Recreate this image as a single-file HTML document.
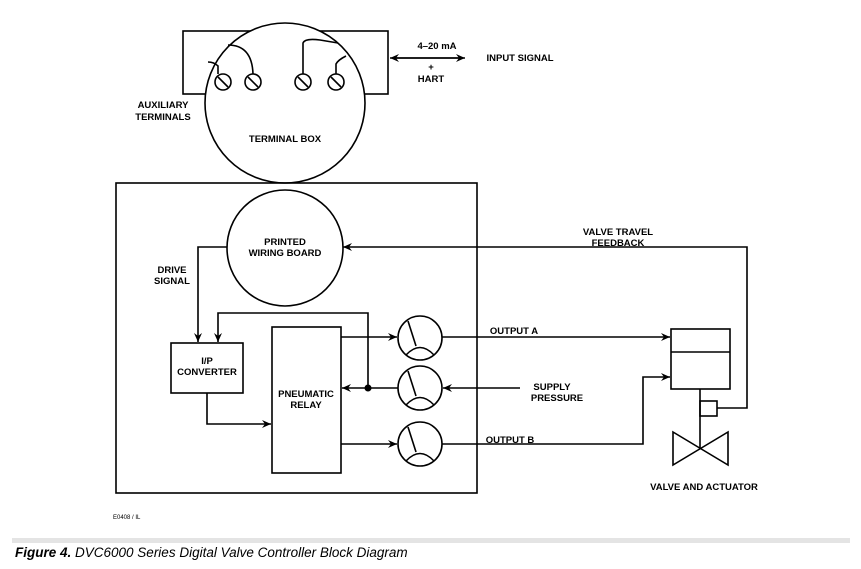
<!DOCTYPE html>
<html><head><style>body{margin:0;background:#fff}svg{display:block}</style></head><body>
<svg width="861" height="569" viewBox="0 0 861 569" xmlns="http://www.w3.org/2000/svg" font-family="Liberation Sans, Arial, sans-serif">
<defs><marker id="a" markerWidth="10" markerHeight="8" refX="9" refY="4" orient="auto" markerUnits="userSpaceOnUse"><path d="M0,0 L9,4 L0,8 L3,4 Z" fill="#000"/></marker></defs>
<g fill="none" stroke="#000" stroke-width="1.6">
<rect x="183" y="31" width="205" height="63" fill="#fff"/>
<circle cx="285" cy="103" r="80" fill="#fff"/>
<path d="M208,62 Q214,62 218,66 L218,74"/>
<path d="M228,45 Q252,45 253,74"/>
<path d="M303,74 L303,43 Q305,38 320,40 L338,43"/>
<path d="M346,56 Q338,60 336,64 L336,74"/>
<g id="s"><circle cx="223" cy="82" r="8"/><line x1="218" y1="77" x2="228" y2="87"/></g>
<use href="#s" x="30"/><use href="#s" x="80"/><use href="#s" x="113"/>
<line x1="395" y1="58" x2="465" y2="58" marker-end="url(#a)"/>
<line x1="460" y1="58" x2="390" y2="58" marker-end="url(#a)"/>
<rect x="116" y="183" width="361" height="310"/>
<circle cx="285" cy="248" r="58" fill="#fff"/>
<polyline points="227,247 198,247 198,342" marker-end="url(#a)"/>
<polyline points="368,388 368,313 218,313 218,342" marker-end="url(#a)"/>
<rect x="171" y="343" width="72" height="50"/>
<rect x="272" y="327" width="69" height="146"/>
<polyline points="207,393 207,424 271,424" marker-end="url(#a)"/>
<line x1="341" y1="337" x2="397" y2="337" marker-end="url(#a)"/>
<line x1="398" y1="388" x2="342" y2="388" marker-end="url(#a)"/>
<line x1="341" y1="444" x2="397" y2="444" marker-end="url(#a)"/>
<g id="g"><circle cx="420" cy="338" r="22"/><line x1="408" y1="321" x2="416" y2="346"/><path d="M406,355 Q420,340 434,355"/></g>
<use href="#g" y="50"/><use href="#g" y="106"/>
<line x1="442" y1="337" x2="670" y2="337" marker-end="url(#a)"/>
<line x1="520" y1="388" x2="443" y2="388" marker-end="url(#a)"/>
<polyline points="442,444 643,444 643,377 670,377" marker-end="url(#a)"/>
<rect x="671" y="329" width="59" height="60"/>
<line x1="671" y1="352" x2="730" y2="352"/>
<line x1="700" y1="389" x2="700" y2="449"/>
<rect x="700" y="401" width="17" height="15"/>
<polyline points="717,408 747,408 747,247 343,247" marker-end="url(#a)"/>
<path d="M673,432 L728,465 L728,432 L673,465 Z"/>
</g>
<circle cx="368" cy="388" r="3.5"/>
<g font-size="9.5" font-weight="bold" text-anchor="middle">
<text x="437" y="49">4–20 mA</text><text x="431" y="70">+</text><text x="431" y="82">HART</text>
<text x="520" y="61">INPUT SIGNAL</text>
<text x="163" y="108">AUXILIARY</text><text x="163" y="120">TERMINALS</text>
<text x="285" y="142">TERMINAL BOX</text>
<text x="285" y="245">PRINTED</text><text x="285" y="256">WIRING BOARD</text>
<text x="172" y="273">DRIVE</text><text x="172" y="284">SIGNAL</text>
<text x="207" y="364">I/P</text><text x="207" y="375">CONVERTER</text>
<text x="306" y="397">PNEUMATIC</text><text x="306" y="408">RELAY</text>
<text x="618" y="235">VALVE TRAVEL</text><text x="618" y="246">FEEDBACK</text>
<text x="514" y="334">OUTPUT A</text>
<text x="552" y="390">SUPPLY</text><text x="557" y="401">PRESSURE</text>
<text x="510" y="443">OUTPUT B</text>
<text x="704" y="490">VALVE AND ACTUATOR</text>
</g>
<text x="113" y="519" font-size="6">E0408 / IL</text>
<rect x="12" y="538" width="838" height="5" fill="#e4e4e4"/>
<text x="15" y="557" font-size="13.5" font-style="italic"><tspan font-weight="bold">Figure 4.</tspan> DVC6000 Series Digital Valve Controller Block Diagram</text>
</svg>
</body></html>
